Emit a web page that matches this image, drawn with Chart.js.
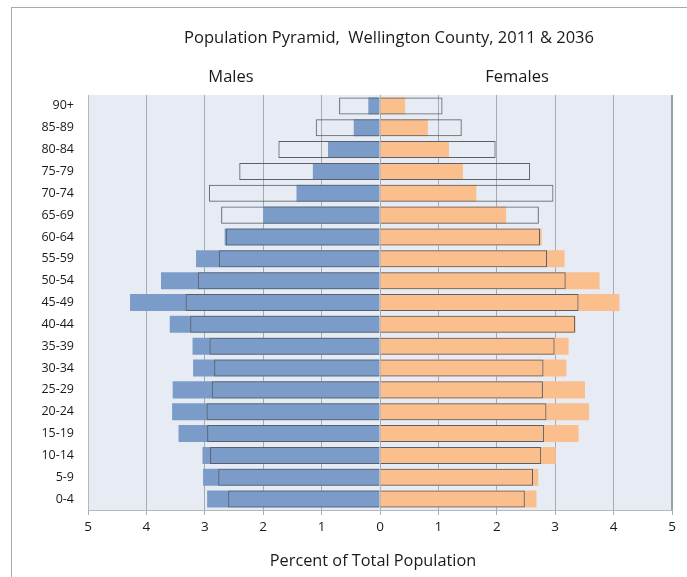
<!DOCTYPE html>
<html>
<head>
<meta charset="utf-8">
<script src="https://cdn.jsdelivr.net/npm/chart.js@4.4.1/dist/chart.umd.min.js"></script>
<style>
  body { margin: 0; background: #fff; overflow: hidden; }
  #wrap { position: relative; width: 687px; height: 577px; }
  #frame { position: absolute; left: 11px; top: 7px; width: 700px; height: 600px;
           border-left: 1px solid #a9a9a9; border-top: 1px solid #a9a9a9; }
  canvas { position: absolute; left: 0; top: 0; }
</style>
</head>
<body>
<div id="wrap">
  <div id="frame"></div>
  <canvas id="pyramid"></canvas>
</div>
<script>
// age groups, top of the pyramid first
const ageGroups = ['90+', '85-89', '80-84', '75-79', '70-74', '65-69', '60-64', '55-59', '50-54',
    '45-49', '40-44', '35-39', '30-34', '25-29', '20-24', '15-19', '10-14', '5-9', '0-4'];

// percent of total population
const males2011 = [0.20, 0.45, 0.89, 1.15, 1.43, 2.00, 2.66, 3.15, 3.75, 4.28, 3.60, 3.21, 3.20, 3.55, 3.56, 3.45, 3.04, 3.03, 2.96];
const males2036 = [0.70, 1.10, 1.74, 2.41, 2.93, 2.72, 2.64, 2.76, 3.12, 3.33, 3.25, 2.92, 2.84, 2.88, 2.97, 2.96, 2.91, 2.77, 2.60];
const females2011 = [0.43, 0.82, 1.18, 1.42, 1.65, 2.16, 2.77, 3.16, 3.76, 4.10, 3.35, 3.23, 3.19, 3.51, 3.58, 3.40, 3.01, 2.71, 2.68];
const females2036 = [1.07, 1.40, 1.98, 2.57, 2.97, 2.72, 2.74, 2.86, 3.18, 3.40, 3.34, 2.99, 2.80, 2.79, 2.85, 2.81, 2.76, 2.62, 2.48];

const xTicks = [-5, -4, -3, -2, -1, 0, 1, 2, 3, 4, 5];

const FONT = '"Open Sans", sans-serif';

// plot background + header texts
const decor = {
    id: 'decor',
    beforeDraw(chart) {
        const { ctx, chartArea: a } = chart;
        ctx.save();
        ctx.fillStyle = '#e7ecf4';
        ctx.fillRect(a.left, a.top, a.right - a.left, a.bottom - a.top);
        ctx.restore();
    },
    afterDraw(chart) {
        const { ctx, chartArea: a } = chart;
        ctx.save();
        ctx.fillStyle = '#1a1a1a';
        ctx.textAlign = 'center';
        ctx.textBaseline = 'middle';
        ctx.font = '16.5px ' + FONT;
        ctx.fillText('Population Pyramid,  Wellington County, 2011 & 2036', 389, 38);
        ctx.fillText('Males', 231, 77);
        ctx.fillText('Females', 517, 77);
        ctx.font = '16.3px ' + FONT;
        ctx.fillText('Percent of Total Population', 373, 561);
        // right edge of the plot
        ctx.strokeStyle = '#9c9fa4';
        ctx.lineWidth = 2;
        ctx.beginPath();
        ctx.moveTo(a.right, a.top);
        ctx.lineTo(a.right, a.bottom);
        ctx.stroke();
        ctx.restore();
    }
};

const barOpts = { grouped: false, categoryPercentage: 1, barPercentage: 0.78 };

new Chart(document.getElementById('pyramid'), {
    type: 'bar',
    data: {
        labels: ageGroups,
        datasets: [
            Object.assign({
                label: 'Males 2036',
                data: males2036.map(v => -v),
                backgroundColor: 'rgba(0,0,0,0)',
                borderColor: '#5b6068',
                borderWidth: 1,
                order: 0
            }, barOpts),
            Object.assign({
                label: 'Females 2036',
                data: females2036,
                backgroundColor: 'rgba(0,0,0,0)',
                borderColor: '#5b6068',
                borderWidth: 1,
                order: 0
            }, barOpts),
            Object.assign({
                label: 'Males 2011',
                data: males2011.map(v => -v),
                backgroundColor: '#7b9cc8',
                borderWidth: 0,
                order: 1
            }, barOpts),
            Object.assign({
                label: 'Females 2011',
                data: females2011,
                backgroundColor: '#fbbe8d',
                borderWidth: 0,
                order: 1
            }, barOpts)
        ]
    },
    options: {
        indexAxis: 'y',
        responsive: true,
        maintainAspectRatio: false,
        animation: false,
        layout: { padding: { top: 95, right: 15, left: 0, bottom: 0 } },
        plugins: {
            legend: { display: false },
            tooltip: { enabled: false }
        },
        scales: {
            x: {
                type: 'linear',
                min: -5,
                max: 5,
                afterBuildTicks(scale) {
                    scale.ticks = xTicks.map(v => ({ value: v }));
                },
                afterFit(scale) { scale.height = 67; },
                grid: {
                    color: '#a7abb1',
                    lineWidth: 1,
                    drawTicks: true,
                    tickLength: 5
                },
                border: { display: true, color: '#b4b7bc', width: 1 },
                ticks: {
                    padding: 4,
                    color: '#1a1a1a',
                    font: { family: FONT, size: 13.5 },
                    callback: v => Math.abs(v)
                }
            },
            y: {
                afterFit(scale) { scale.width = 88; },
                grid: { display: false, drawTicks: false },
                border: { display: true, color: '#b4b7bc', width: 1 },
                ticks: {
                    padding: 14,
                    color: '#1a1a1a',
                    font: { family: FONT, size: 12.5 }
                }
            }
        }
    },
    plugins: [decor]
});
</script>
</body>
</html>
